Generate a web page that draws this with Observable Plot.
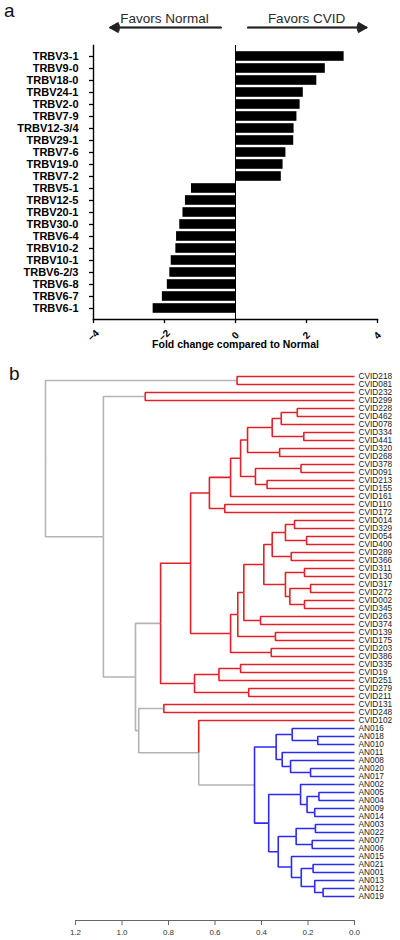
<!DOCTYPE html>
<html><head><meta charset="utf-8">
<script src="https://cdn.jsdelivr.net/npm/d3@7"></script>
<script src="https://cdn.jsdelivr.net/npm/@observablehq/plot@0.6"></script>
<style>
body{margin:0;background:#fff;font-family:"Liberation Sans",Arial,sans-serif;}
#c{position:relative;width:400px;height:940px;overflow:hidden;background:#fff;}
#c svg{position:absolute;left:0;}
.panel{position:absolute;font-size:19px;color:#111;line-height:1.1;}
</style></head><body><div id="c"></div>
<script>
// ---------- Panel a data ----------
const genes = ["TRBV3-1","TRBV9-0","TRBV18-0","TRBV24-1","TRBV2-0","TRBV7-9","TRBV12-3/4","TRBV29-1","TRBV7-6","TRBV19-0","TRBV7-2",
  "TRBV5-1","TRBV12-5","TRBV20-1","TRBV30-0","TRBV6-4","TRBV10-2","TRBV10-1","TRBV6-2/3","TRBV6-8","TRBV6-7","TRBV6-1"];
const foldChange = [3.06,2.53,2.29,1.91,1.82,1.73,1.65,1.64,1.42,1.34,1.29,
  -1.24,-1.41,-1.48,-1.57,-1.66,-1.68,-1.81,-1.85,-1.92,-2.06,-2.32];
const foldTicks = [-4,-2,0,2,4];
const foldTitle = "Fold change compared to Normal";
const favorLabels = ["Favors Normal","Favors CVID"];
const favorCenters = [-2.0, 2.0];
const favorFrom = [-0.41, 0.35];
const favorTo = [-3.53, 3.69];

// ---------- Panel b data (hierarchical clustering) ----------
// each merge: [left, right, height]; strings are leaves, numbers are earlier merges
const merges = [
  ["CVID218","CVID081",0.505],   //0
  ["CVID232","CVID299",0.90],    //1
  ["CVID228","CVID462",0.246],   //2
  [2,"CVID078",0.315],           //3
  ["CVID334","CVID441",0.218],   //4
  [3,4,0.354],                   //5
  ["CVID320","CVID268",0.322],   //6
  [5,6,0.46],                    //7
  ["CVID378","CVID091",0.23],    //8
  ["CVID213","CVID155",0.376],   //9
  [8,9,0.426],                   //10
  [7,10,0.49],                   //11
  [11,"CVID161",0.533],          //12
  ["CVID110","CVID172",0.558],   //13
  [12,13,0.624],                 //14
  ["CVID014","CVID329",0.258],   //15
  ["CVID054","CVID400",0.206],   //16
  [15,16,0.297],                 //17
  ["CVID289","CVID366",0.272],   //18
  [17,18,0.354],                 //19
  ["CVID311","CVID130",0.215],   //20
  ["CVID317","CVID272",0.189],   //21
  ["CVID002","CVID345",0.215],   //22
  [21,22,0.278],                 //23
  [20,23,0.297],                 //24
  [19,24,0.39],                  //25
  ["CVID263","CVID374",0.404],   //26
  [25,26,0.476],                 //27
  ["CVID139","CVID175",0.34],    //28
  [27,28,0.502],                 //29
  ["CVID203","CVID386",0.358],   //30
  [29,30,0.533],                 //31
  [14,31,0.705],                 //32
  ["CVID335","CVID19",0.49],     //33
  [33,"CVID251",0.583],          //34
  ["CVID279","CVID211",0.455],   //35
  [34,35,0.688],                 //36
  [32,36,0.834],                 //37
  ["CVID131","CVID248",0.82],    //38
  ["AN018","AN010",0.158],       //39
  ["AN016",39,0.268],            //40
  ["AN020","AN017",0.189],       //41
  ["AN008",41,0.275],            //42
  ["AN011",42,0.311],            //43
  [40,43,0.337],                 //44
  ["AN005","AN004",0.153],       //45
  ["AN009","AN014",0.171],       //46
  [45,46,0.204],                 //47
  ["AN002",47,0.232],            //48
  ["AN003","AN022",0.168],       //49
  ["AN007","AN006",0.182],       //50
  [49,50,0.251],                 //51
  ["AN021","AN001",0.178],       //52
  ["AN012","AN019",0.135],       //53
  ["AN013",53,0.171],            //54
  [52,54,0.229],                 //55
  ["AN015",55,0.271],            //56
  [51,56,0.328],                 //57
  [48,57,0.369],                 //58
  [44,58,0.43],                  //59
  ["CVID102",59,0.67],           //60
  [38,60,0.928],                 //61
  [37,61,0.942],                 //62
  [1,62,1.08],                   //63
  [0,63,1.329]                   //64
];
const unclusteredMerges = [60,61,62,63,64];
const distTicks = [1.2,1.0,0.8,0.6,0.4,0.2,0.0];
const groupNames = ["CVID","AN","none"];
const groupColors = ["#e3202a","#2b2bf5","#b4b4b4"];

const FONT = "'Liberation Sans', Arial, Helvetica, sans-serif";
const root = document.getElementById("c");

// ---------- Panel a ----------
const rows = genes.map((g,i)=>({gene:g, fc:foldChange[i]}));
const barPlot = Plot.plot({
  width:400, height:362, marginTop:45, marginBottom:43, marginLeft:93, marginRight:23,
  style:{fontFamily:FONT, color:"#000", background:"transparent"},
  x:{domain:[-4,4], label:null},
  y:{domain:genes, padding:0, label:null},
  marks:[
    Plot.barX(rows, {x:"fc", y:"gene", fill:"#000", insetTop:1.2, insetBottom:1.2}),
    Plot.ruleX([0], {stroke:"#000", strokeWidth:1}),
    Plot.frame({anchor:"left", stroke:"#000", strokeWidth:1.4}),
    Plot.frame({anchor:"bottom", stroke:"#000", strokeWidth:1.4}),
    Plot.axisY({tickSize:4, tickPadding:11, fontWeight:"bold", fontSize:11, label:null, stroke:"#000", strokeWidth:1.3}),
    Plot.axisX({ticks:foldTicks, tickSize:4, tickPadding:12, tickRotate:-45, textAnchor:"middle", lineAnchor:"middle",
      fontWeight:"bold", fontSize:10, label:null, stroke:"#000", strokeWidth:1.3}),
    Plot.text([foldTitle], {text:d=>d, frameAnchor:"bottom", dy:28, fontWeight:"bold", fontSize:10.5, fill:"#000"})
  ]
});
barPlot.style.top = "0px";
root.appendChild(barPlot);

const favors = favorLabels.map((l,i)=>({label:l, center:favorCenters[i], from:favorFrom[i], to:favorTo[i]}));
const arrowOpts = a => ({x1:"from", x2:"to", y1:0, y2:0, stroke:"#222", strokeWidth:1.7, headLength:8, headAngle:a});
const header = Plot.plot({
  width:400, height:34, marginTop:0, marginBottom:7, marginLeft:93, marginRight:23,
  style:{fontFamily:FONT, color:"#222", background:"transparent"},
  x:{domain:[-4,4], axis:null}, y:{domain:[0,1], axis:null},
  marks:[
    Plot.text(favors, {x:"center", text:"label", frameAnchor:"top", dy:13, fontSize:13.5, fill:"#2a2a2a"}),
    Plot.arrow(favors, arrowOpts(60)),
    Plot.arrow(favors, arrowOpts(40)),
    Plot.arrow(favors, arrowOpts(20))
  ]
});
header.style.top = "0px";
root.appendChild(header);

// ---------- Panel b ----------
const nodes = merges.map((m,i)=>({id:i, a:m[0], b:m[1], h:m[2]}));
let order = 0;
const leaves = [];
function layout(r){
  if (typeof r === "string"){
    const leaf = {leaf:true, name:r, h:0, y:order++, group: r.startsWith("AN") ? "AN" : "CVID"};
    leaves.push(leaf);
    return leaf;
  }
  const n = nodes[r];
  n.kids = [layout(n.a), layout(n.b)];
  n.y = (n.kids[0].y + n.kids[1].y)/2;
  n.firstLeaf = n.kids[0].leaf ? n.kids[0] : n.kids[0].firstLeaf;
  n.group = unclusteredMerges.includes(r) ? "none" : n.firstLeaf.group;
  return n;
}
layout(merges.length - 1);
const links = [];
nodes.forEach(n => n.kids.forEach(c => {
  const g = n.group !== "none" ? n.group : (c.leaf ? c.group : "none");
  links.push({x1:n.h, y1:n.y, x2:c.h, y2:c.y, group:g});
}));
links.sort((p,q)=> (p.group==="none"?0:1) - (q.group==="none"?0:1));

const treePlot = Plot.plot({
  width:400, height:580, marginTop:16, marginBottom:20, marginLeft:75, marginRight:46,
  style:{fontFamily:FONT, color:"#333", background:"transparent"},
  x:{domain:[1.2,0], label:null},
  y:{domain:[0, leaves.length-1], reverse:true, insetBottom:24, axis:null},
  color:{domain:groupNames, range:groupColors},
  marks:[
    Plot.link(links, {x1:"x1", y1:"y1", x2:"x2", y2:"y2", stroke:"group", curve:"step-before", strokeWidth:1.6}),
    Plot.text(leaves, {x:0, y:"y", text:"name", textAnchor:"start", dx:4, fontSize:8.3, fill:"#222"}),
    Plot.frame({anchor:"bottom", stroke:"#666", strokeWidth:1}),
    Plot.axisX({ticks:distTicks, tickFormat:d3.format(".1f"), tickSize:5, tickPadding:4, fontSize:8, stroke:"#666", fill:"#333", label:null})
  ]
});
treePlot.style.top = "360px";
root.appendChild(treePlot);

// panel letters
for (const [t, top, left] of [["a", 1, 4], ["b", 364, 9]]){
  const d = document.createElement("div");
  d.className = "panel"; d.textContent = t;
  d.style.top = top + "px"; d.style.left = left + "px";
  root.appendChild(d);
}
</script>
</body></html>
